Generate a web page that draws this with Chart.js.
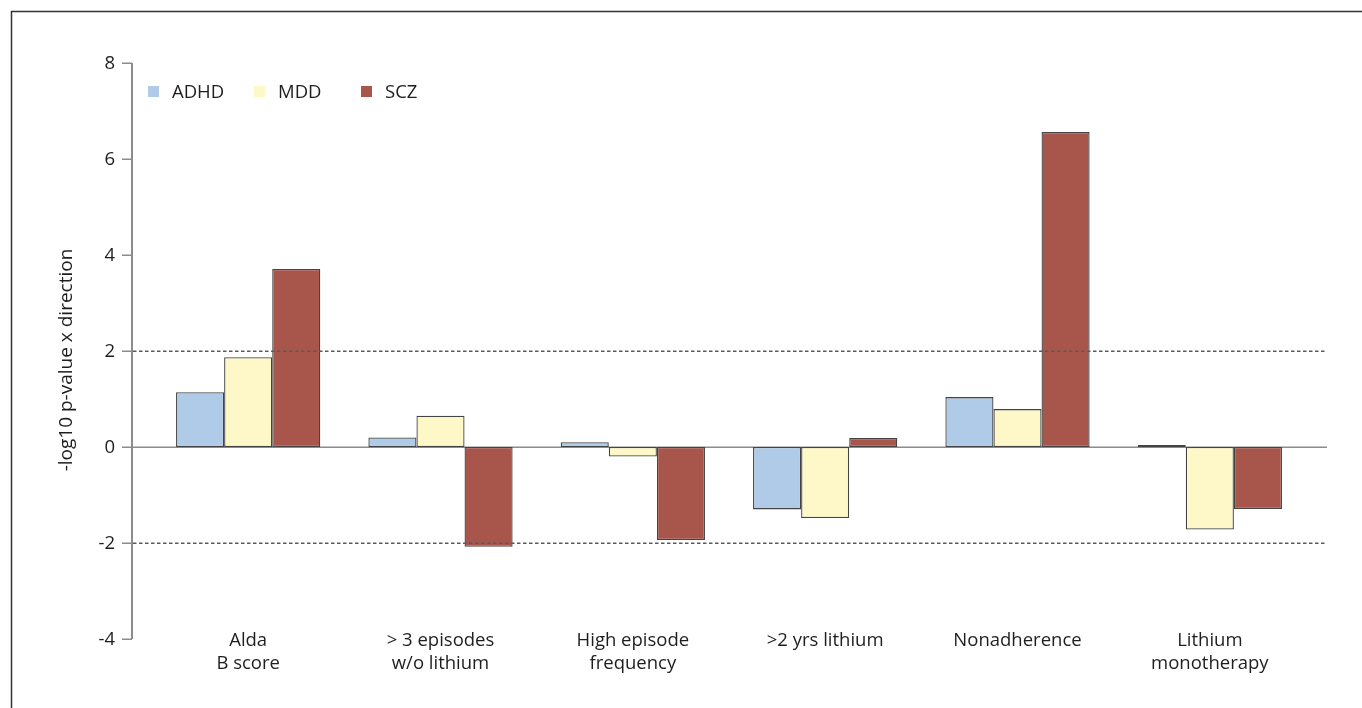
<!DOCTYPE html>
<html>
<head>
<meta charset="utf-8">
<script src="https://cdn.jsdelivr.net/npm/chart.js@4/dist/chart.umd.min.js"></script>
<style>
  html, body { margin: 0; padding: 0; background: #ffffff; }
  canvas { display: block; }
</style>
</head>
<body>
<canvas id="chart" width="1362" height="708"></canvas>
<script>
// Phenotype categories (multi-line labels)
const categories = [
  ['Alda', 'B score'],
  ['> 3 episodes', 'w/o lithium'],
  ['High episode', 'frequency'],
  ['>2 yrs lithium'],
  ['Nonadherence'],
  ['Lithium', 'monotherapy']
];

// -log10 p-value x direction per polygenic score
const seriesNames = ['ADHD', 'MDD', 'SCZ'];
const adhdValues = [1.14, 0.20, 0.10, -1.30, 1.04, 0.04];
const mddValues  = [1.87, 0.65, -0.20, -1.48, 0.79, -1.72];
const sczValues  = [3.71, -2.08, -1.94, 0.19, 6.56, -1.29];

// Axis range and significance thresholds
const yTickValues = [-4, -2, 0, 2, 4, 6, 8];
const thresholdLines = [2, -2];
const yAxisTitle = '-log10 p-value x direction';

const FONT_FAMILY = '"Open Sans", "Noto Sans", sans-serif';
const LABEL_FONT = '18.5px ' + FONT_FAMILY;
const TITLE_FONT = '19px ' + FONT_FAMILY;
const TEXT_COLOR = '#1e1e1e';
const fillColors = ['#b0cbe8', '#fef7c7', '#a8554c'];
const AXIS_GRAY = '#8c8c8c';

// Frame, y axis, reference lines, labels, legend and axis title
const decorations = {
  id: 'decorations',
  beforeDatasetsDraw(chart) {
    const { ctx, chartArea, scales } = chart;
    const y = scales.y;
    const axisX = chartArea.left - 20;
    const lineRight = chartArea.right + 21;
    ctx.save();
    // outer frame (top and left edges)
    ctx.strokeStyle = '#333333';
    ctx.lineWidth = 1.5;
    ctx.beginPath();
    ctx.moveTo(11.5, 708);
    ctx.lineTo(11.5, 11.5);
    ctx.lineTo(1362, 11.5);
    ctx.stroke();
    // vertical axis line and tick marks
    ctx.strokeStyle = AXIS_GRAY;
    ctx.lineWidth = 2;
    ctx.beginPath();
    ctx.moveTo(axisX, y.getPixelForValue(yTickValues[yTickValues.length - 1]));
    ctx.lineTo(axisX, y.getPixelForValue(yTickValues[0]));
    ctx.stroke();
    ctx.lineWidth = 1.5;
    yTickValues.forEach(v => {
      const py = Math.round(y.getPixelForValue(v)) + 0.25;
      ctx.beginPath();
      ctx.moveTo(axisX - 10, py);
      ctx.lineTo(axisX, py);
      ctx.stroke();
    });
    // zero line
    const zy = Math.round(y.getPixelForValue(0)) + 0.25;
    ctx.beginPath();
    ctx.moveTo(axisX, zy);
    ctx.lineTo(lineRight, zy);
    ctx.stroke();

    // y tick labels
    ctx.font = LABEL_FONT;
    ctx.fillStyle = TEXT_COLOR;
    ctx.textAlign = 'right';
    ctx.textBaseline = 'middle';
    yTickValues.forEach(v => {
      ctx.fillText(String(v), axisX - 17, y.getPixelForValue(v) + 1);
    });

    // category labels
    const x = scales.x;
    ctx.textAlign = 'center';
    ctx.textBaseline = 'alphabetic';
    chart.data.labels.forEach((lab, i) => {
      const px = x.getPixelForValue(i);
      const lines = Array.isArray(lab) ? lab : [lab];
      lines.forEach((ln, j) => {
        ctx.fillText(ln, px, chartArea.bottom + 7 + j * 22.5);
      });
    });
    ctx.restore();
  },
  afterDatasetsDraw(chart) {
    const { ctx, chartArea, scales } = chart;
    const y = scales.y;
    const axisX = chartArea.left - 20;
    const lineRight = chartArea.right + 21;
    ctx.save();
    // dashed significance thresholds
    ctx.strokeStyle = '#5a5a5a';
    ctx.lineWidth = 1.5;
    ctx.setLineDash([3.5, 2.5]);
    thresholdLines.forEach(v => {
      const py = Math.round(y.getPixelForValue(v)) + 0.25;
      ctx.beginPath();
      ctx.moveTo(axisX + 1, py);
      ctx.lineTo(lineRight, py);
      ctx.stroke();
    });
    ctx.setLineDash([]);

    // legend: swatch offsets from the plot's left edge
    const legendOffsets = [-4, 102, 209];
    ctx.font = LABEL_FONT;
    ctx.textBaseline = 'middle';
    ctx.textAlign = 'left';
    const ly = 91.5;
    chart.data.datasets.forEach((ds, i) => {
      const lx = chartArea.left + legendOffsets[i];
      ctx.fillStyle = ds.backgroundColor;
      ctx.fillRect(lx, ly - 5.5, 11, 11);
      ctx.fillStyle = TEXT_COLOR;
      ctx.fillText(ds.label, lx + 24, ly + 1);
    });

    // vertical axis title
    ctx.font = TITLE_FONT;
    ctx.translate(67, (chartArea.top + chartArea.bottom) / 2 + 9);
    ctx.rotate(-Math.PI / 2);
    ctx.textAlign = 'center';
    ctx.fillStyle = TEXT_COLOR;
    ctx.fillText(yAxisTitle, 0, 0);
    ctx.restore();
  }
};

const makeDataset = (label, values, i) => ({
  label,
  data: values,
  backgroundColor: fillColors[i],
  borderColor: '#444444',
  borderWidth: 1.3,
  borderSkipped: false,
  categoryPercentage: 0.75,
  barPercentage: 1.0
});

new Chart(document.getElementById('chart'), {
  type: 'bar',
  data: {
    labels: categories,
    datasets: [
      makeDataset(seriesNames[0], adhdValues, 0),
      makeDataset(seriesNames[1], mddValues, 1),
      makeDataset(seriesNames[2], sczValues, 2)
    ]
  },
  options: {
    responsive: false,
    animation: false,
    layout: { padding: { left: 0, right: 56, top: 63, bottom: 0 } },
    plugins: {
      legend: { display: false },
      tooltip: { enabled: false }
    },
    scales: {
      x: {
        grid: { display: false, drawTicks: false },
        border: { display: false },
        ticks: { display: false },
        afterFit(scale) { scale.height = 69; }
      },
      y: {
        min: yTickValues[0],
        max: yTickValues[yTickValues.length - 1],
        grid: { display: false, drawTicks: false },
        border: { display: false },
        ticks: { display: false, stepSize: 2 },
        afterFit(scale) { scale.width = 152; }
      }
    }
  },
  plugins: [decorations]
});
</script>
</body>
</html>
